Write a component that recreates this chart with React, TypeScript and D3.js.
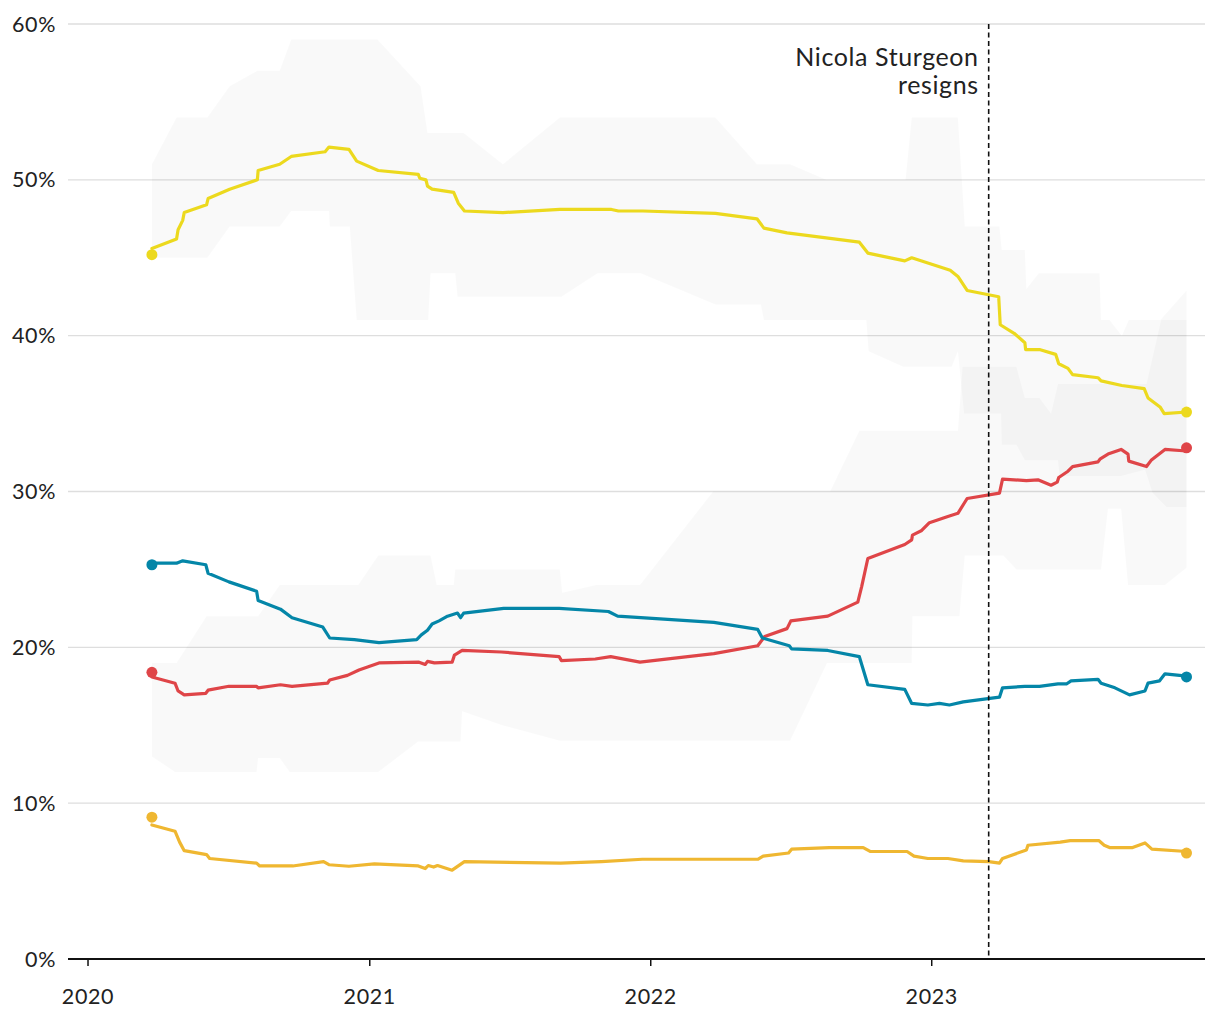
import React from 'react';
import * as d3 from 'd3';

type Pt = [string, number];

const W = 1220;
const H = 1020;

const yTicks = [0, 10, 20, 30, 40, 50, 60];
const xTickDates = ['2020-01-01', '2021-01-01', '2022-01-01', '2023-01-01'];
const xTickLabels = ['2020', '2021', '2022', '2023'];
const eventDate = '2023-03-16';
const eventLabel = ['Nicola Sturgeon', 'resigns'];

const snp: Pt[] = [
  ['2020-03-24', 45.6], ['2020-04-25', 46.2], ['2020-04-27', 46.8], ['2020-05-03', 47.4], ['2020-05-05', 47.9],
  ['2020-06-03', 48.4], ['2020-06-05', 48.8], ['2020-07-03', 49.4], ['2020-08-08', 50.0], ['2020-08-09', 50.6],
  ['2020-09-06', 51.0], ['2020-09-21', 51.5], ['2020-11-04', 51.8], ['2020-11-09', 52.1], ['2020-12-05', 51.95],
  ['2020-12-15', 51.2], ['2021-01-12', 50.6], ['2021-03-05', 50.35], ['2021-03-07', 50.1], ['2021-03-15', 50.0],
  ['2021-03-17', 49.6], ['2021-03-23', 49.4], ['2021-04-20', 49.2], ['2021-04-26', 48.5], ['2021-05-04', 48.0],
  ['2021-06-23', 47.9], ['2021-09-05', 48.1], ['2021-11-11', 48.1], ['2021-11-20', 48.0], ['2021-12-22', 48.0],
  ['2022-03-26', 47.85], ['2022-05-19', 47.5], ['2022-05-28', 46.9], ['2022-06-27', 46.6], ['2022-09-29', 46.0],
  ['2022-10-10', 45.3], ['2022-11-27', 44.8], ['2022-12-06', 45.0], ['2022-12-31', 44.6], ['2023-01-25', 44.2],
  ['2023-02-04', 43.8], ['2023-02-16', 42.9], ['2023-03-29', 42.5], ['2023-03-31', 40.7], ['2023-04-18', 40.15],
  ['2023-05-02', 39.55], ['2023-05-03', 39.1], ['2023-05-22', 39.1], ['2023-06-11', 38.8], ['2023-06-15', 38.2],
  ['2023-06-27', 37.9], ['2023-07-03', 37.5], ['2023-08-05', 37.3], ['2023-08-09', 37.1], ['2023-09-05', 36.8],
  ['2023-10-04', 36.6], ['2023-10-09', 36.0], ['2023-10-25', 35.4], ['2023-10-30', 35.0], ['2023-11-28', 35.1],
];

const labour: Pt[] = [
  ['2020-03-24', 18.1], ['2020-04-23', 17.7], ['2020-04-27', 17.2], ['2020-05-05', 16.95], ['2020-06-02', 17.05],
  ['2020-06-05', 17.25], ['2020-07-02', 17.5], ['2020-08-07', 17.5], ['2020-08-09', 17.4], ['2020-09-07', 17.6],
  ['2020-09-22', 17.5], ['2020-11-07', 17.7], ['2020-11-10', 17.9], ['2020-12-03', 18.2], ['2020-12-18', 18.55],
  ['2021-01-13', 19.0], ['2021-03-06', 19.05], ['2021-03-14', 18.9], ['2021-03-17', 19.1], ['2021-03-26', 19.0],
  ['2021-04-18', 19.05], ['2021-04-21', 19.5], ['2021-05-01', 19.8], ['2021-06-21', 19.7], ['2021-09-04', 19.4],
  ['2021-09-07', 19.15], ['2021-10-21', 19.25], ['2021-11-10', 19.4], ['2021-12-18', 19.05], ['2022-03-24', 19.6],
  ['2022-05-20', 20.1], ['2022-05-29', 20.7], ['2022-06-27', 21.2], ['2022-07-02', 21.7], ['2022-08-19', 22.0],
  ['2022-09-27', 22.9], ['2022-10-02', 23.9], ['2022-10-10', 25.7], ['2022-11-27', 26.6], ['2022-12-06', 26.9],
  ['2022-12-07', 27.2], ['2022-12-19', 27.5], ['2022-12-29', 28.0], ['2023-01-22', 28.4], ['2023-02-04', 28.6],
  ['2023-02-16', 29.55], ['2023-03-30', 29.9], ['2023-04-03', 30.8], ['2023-05-04', 30.7], ['2023-05-19', 30.75],
  ['2023-06-05', 30.4], ['2023-06-13', 30.6], ['2023-06-15', 30.9], ['2023-06-27', 31.3], ['2023-07-03', 31.6],
  ['2023-08-05', 31.9], ['2023-08-08', 32.1], ['2023-08-18', 32.4], ['2023-09-04', 32.7], ['2023-09-13', 32.4],
  ['2023-09-14', 31.95], ['2023-10-07', 31.6], ['2023-10-13', 32.0], ['2023-10-31', 32.7], ['2023-11-28', 32.6],
];

const conservative: Pt[] = [
  ['2020-03-24', 25.4], ['2020-04-25', 25.4], ['2020-05-03', 25.55], ['2020-06-02', 25.3], ['2020-06-05', 24.75],
  ['2020-07-02', 24.2], ['2020-08-07', 23.6], ['2020-08-09', 23.0], ['2020-09-07', 22.45], ['2020-09-22', 21.9],
  ['2020-11-01', 21.3], ['2020-11-10', 20.6], ['2020-12-12', 20.5], ['2021-01-13', 20.3], ['2021-03-03', 20.5],
  ['2021-03-09', 20.8], ['2021-03-17', 21.1], ['2021-03-23', 21.5], ['2021-04-01', 21.7], ['2021-04-12', 22.0],
  ['2021-04-25', 22.2], ['2021-04-29', 21.9], ['2021-05-03', 22.2], ['2021-06-24', 22.5], ['2021-09-04', 22.5],
  ['2021-11-07', 22.3], ['2021-11-19', 22.0], ['2022-03-24', 21.6], ['2022-05-20', 21.15], ['2022-05-26', 20.6],
  ['2022-06-30', 20.1], ['2022-07-03', 19.9], ['2022-08-19', 19.8], ['2022-09-29', 19.4], ['2022-10-10', 17.6],
  ['2022-11-27', 17.3], ['2022-12-06', 16.4], ['2022-12-27', 16.3], ['2023-01-11', 16.4], ['2023-01-24', 16.3],
  ['2023-02-11', 16.5], ['2023-03-30', 16.8], ['2023-04-03', 17.4], ['2023-05-02', 17.5], ['2023-05-21', 17.5],
  ['2023-06-14', 17.65], ['2023-06-25', 17.65], ['2023-07-01', 17.85], ['2023-08-05', 17.95], ['2023-08-09', 17.7],
  ['2023-08-27', 17.4], ['2023-09-15', 16.95], ['2023-10-05', 17.2], ['2023-10-09', 17.7], ['2023-10-24', 17.85],
  ['2023-10-31', 18.3], ['2023-11-19', 18.2], ['2023-11-28', 18.15],
];

const libDem: Pt[] = [
  ['2020-03-24', 8.6], ['2020-04-23', 8.2], ['2020-04-29', 7.5], ['2020-05-05', 6.95], ['2020-06-03', 6.7],
  ['2020-06-07', 6.45], ['2020-08-07', 6.15], ['2020-08-11', 5.97], ['2020-09-23', 5.97], ['2020-11-02', 6.25],
  ['2020-11-09', 6.05], ['2020-12-05', 5.95], ['2021-01-07', 6.1], ['2021-03-05', 5.97], ['2021-03-14', 5.8],
  ['2021-03-18', 6.0], ['2021-03-25', 5.9], ['2021-03-30', 6.0], ['2021-04-18', 5.7], ['2021-05-04', 6.25],
  ['2021-09-06', 6.15], ['2021-10-29', 6.25], ['2021-12-21', 6.4], ['2022-05-20', 6.4], ['2022-05-27', 6.6],
  ['2022-06-29', 6.8], ['2022-07-03', 7.05], ['2022-08-21', 7.15], ['2022-10-04', 7.15], ['2022-10-13', 6.9],
  ['2022-11-30', 6.9], ['2022-12-09', 6.6], ['2022-12-27', 6.45], ['2023-01-22', 6.45], ['2023-02-11', 6.3],
  ['2023-03-16', 6.25], ['2023-03-30', 6.15], ['2023-04-03', 6.45], ['2023-05-04', 7.0], ['2023-05-06', 7.3],
  ['2023-06-17', 7.5], ['2023-06-30', 7.6], ['2023-08-06', 7.6], ['2023-08-13', 7.3], ['2023-08-20', 7.15],
  ['2023-09-19', 7.15], ['2023-10-05', 7.45], ['2023-10-14', 7.05], ['2023-11-28', 6.9],
];

// first / latest poll markers
const startDots = [45.2, 18.4, 25.3, 9.1];
const endDots = [35.1, 32.8, 18.1, 6.8];
const seriesNames = ['SNP', 'Labour', 'Conservative', 'Lib Dem'];
const seriesColors = ['#ecd91e', '#df4548', '#0486a8', '#efb731'];
const dotDates = ['2020-03-24', '2023-11-28'];

// range bands (upper and lower edges)
const snpHigh: Pt[] = [
  ['2020-03-24', 51.0], ['2020-04-25', 54.0], ['2020-06-04', 54.0], ['2020-07-03', 56.0], ['2020-08-08', 57.0],
  ['2020-09-06', 57.0], ['2020-09-21', 59.0], ['2021-01-11', 59.0], ['2021-03-08', 56.0], ['2021-03-17', 53.0],
  ['2021-05-03', 53.0], ['2021-06-23', 51.0], ['2021-09-05', 54.0], ['2022-03-26', 54.0], ['2022-05-19', 51.0],
  ['2022-07-01', 51.0], ['2022-08-17', 50.0], ['2022-11-28', 50.0], ['2022-12-06', 54.0], ['2023-02-04', 54.0],
  ['2023-02-13', 47.0], ['2023-03-30', 47.0], ['2023-04-02', 45.5], ['2023-05-02', 45.5], ['2023-05-04', 43.0],
  ['2023-05-20', 44.0], ['2023-08-07', 44.0], ['2023-08-09', 41.0], ['2023-08-20', 41.0], ['2023-09-05', 40.0],
  ['2023-09-14', 41.0], ['2023-10-25', 41.0], ['2023-11-28', 42.9],
];
const snpLow: Pt[] = [
  ['2020-03-24', 45.0], ['2020-06-04', 45.0], ['2020-07-03', 47.0], ['2020-09-06', 47.0], ['2020-09-21', 48.0],
  ['2020-11-09', 48.0], ['2020-11-10', 47.0], ['2020-12-06', 47.0], ['2020-12-15', 41.0], ['2021-03-18', 41.0],
  ['2021-03-21', 44.0], ['2021-04-22', 44.0], ['2021-04-25', 42.5], ['2021-09-07', 42.5], ['2021-10-24', 44.0],
  ['2021-12-19', 44.0], ['2022-03-26', 42.0], ['2022-05-24', 42.0], ['2022-05-28', 41.0], ['2022-10-08', 41.0],
  ['2022-10-11', 39.0], ['2022-11-25', 38.0], ['2023-01-27', 38.0], ['2023-02-04', 39.0], ['2023-02-12', 35.0],
  ['2023-04-01', 35.0], ['2023-04-02', 33.0], ['2023-04-21', 33.0], ['2023-05-02', 32.0], ['2023-06-14', 32.0],
  ['2023-06-16', 31.0], ['2023-09-04', 31.0], ['2023-10-05', 31.4], ['2023-10-15', 29.9], ['2023-11-02', 29.0],
  ['2023-11-28', 29.0],
];
const labourHigh: Pt[] = [
  ['2020-03-24', 19.0], ['2020-04-25', 19.0], ['2020-06-03', 22.0], ['2020-08-09', 22.0], ['2020-09-06', 24.0],
  ['2020-12-17', 24.0], ['2021-01-12', 25.9], ['2021-03-21', 25.9], ['2021-03-29', 24.0], ['2021-04-20', 24.0],
  ['2021-04-22', 25.0], ['2021-09-05', 25.0], ['2021-09-08', 23.5], ['2021-10-22', 24.0], ['2021-12-18', 24.0],
  ['2022-03-23', 30.0], ['2022-08-22', 30.0], ['2022-09-29', 33.9], ['2023-02-04', 33.9], ['2023-02-10', 38.0],
  ['2023-04-21', 38.0], ['2023-05-02', 36.0], ['2023-05-21', 36.0], ['2023-06-05', 35.0], ['2023-06-14', 36.9],
  ['2023-10-07', 36.9], ['2023-10-26', 41.0], ['2023-11-28', 41.0],
];
const labourLow: Pt[] = [
  ['2020-03-24', 13.0], ['2020-04-23', 12.0], ['2020-08-07', 12.0], ['2020-08-09', 12.9], ['2020-09-06', 12.9],
  ['2020-09-19', 12.0], ['2021-01-12', 12.0], ['2021-03-05', 13.95], ['2021-04-29', 13.95], ['2021-05-01', 15.9],
  ['2021-06-22', 15.0], ['2021-09-05', 14.0], ['2022-07-01', 14.0], ['2022-08-18', 19.0], ['2022-12-06', 19.0],
  ['2022-12-07', 22.0], ['2023-02-06', 22.0], ['2023-02-13', 25.9], ['2023-04-04', 25.9], ['2023-04-21', 25.0],
  ['2023-08-09', 25.0], ['2023-08-18', 28.9], ['2023-09-04', 28.9], ['2023-09-13', 24.0], ['2023-10-31', 24.0],
  ['2023-11-28', 25.1],
];

const parse = d3.utcParse('%Y-%m-%d');

export default function App() {
  const x = d3.scaleUtc()
    .domain([parse('2019-12-06')!, parse('2023-12-22')!])
    .range([68, 1205]);
  const y = d3.scaleLinear().domain([0, 60]).range([959, 24]);

  const line = d3.line<Pt>()
    .x((d) => x(parse(d[0])!))
    .y((d) => y(d[1]));

  const bandPath = (hi: Pt[], lo: Pt[]) => {
    const pts: Pt[] = [...hi, ...lo.slice().reverse()];
    return line(pts)! + 'Z';
  };

  const series = [snp, labour, conservative, libDem];
  const [x0, x1] = x.range();
  const ev = x(parse(eventDate)!);
  const font = 'Lato, "Noto Sans", sans-serif';

  return (
    <svg width={W} height={H} viewBox={`0 0 ${W} ${H}`} style={{ display: 'block', background: '#fff' }}>
      <style>{`body{margin:0}`}</style>
      {yTicks.filter((t) => t > 0).map((t) => (
        <line key={t} x1={x0} x2={x1} y1={y(t)} y2={y(t)} stroke="#dedede" strokeWidth={1.3} />
      ))}
      <path d={bandPath(snpHigh, snpLow)} fill="#000" fillOpacity={0.025} />
      <path d={bandPath(labourHigh, labourLow)} fill="#000" fillOpacity={0.025} />
      {series.map((s, i) => (
        <path key={seriesNames[i]} d={line(s)!} fill="none" stroke={seriesColors[i]} strokeWidth={3.2}
          strokeLinejoin="round" strokeLinecap="round" />
      ))}
      {series.map((s, i) => (
        <g key={'dots' + i} fill={seriesColors[i]}>
          <circle cx={x(parse(dotDates[0])!)} cy={y(startDots[i])} r={5.5} />
          <circle cx={x(parse(dotDates[1])!)} cy={y(endDots[i])} r={5.5} />
        </g>
      ))}
      <line x1={ev} x2={ev} y1={y(60)} y2={y(0)} stroke="#111" strokeWidth={1.6} strokeDasharray="5,3.5" />
      <text x={ev - 10} y={66} textAnchor="end" fontFamily={font} fontSize={25} letterSpacing={0.6} fill="#222">
        <tspan x={ev - 10} dy={0}>{eventLabel[0]}</tspan>
        <tspan x={ev - 10} dy={28}>{eventLabel[1]}</tspan>
      </text>
      <line x1={x0} x2={x1} y1={y(0)} y2={y(0)} stroke="#111" strokeWidth={2} />
      {xTickDates.map((d, i) => (
        <g key={d} transform={`translate(${x(parse(d)!)},0)`}>
          <line y1={y(0)} y2={y(0) + 7} stroke="#111" strokeWidth={1.5} />
          <text y={1004} textAnchor="middle" fontFamily={font} fontSize={21.5} letterSpacing={0.6} fill="#222">{xTickLabels[i]}</text>
        </g>
      ))}
      {yTicks.map((t) => (
        <text key={t} x={56} y={y(t)} dy="0.35em" textAnchor="end" fontFamily={font} fontSize={21.5} letterSpacing={0.6} fill="#222">
          {t + '%'}
        </text>
      ))}
    </svg>
  );
}
